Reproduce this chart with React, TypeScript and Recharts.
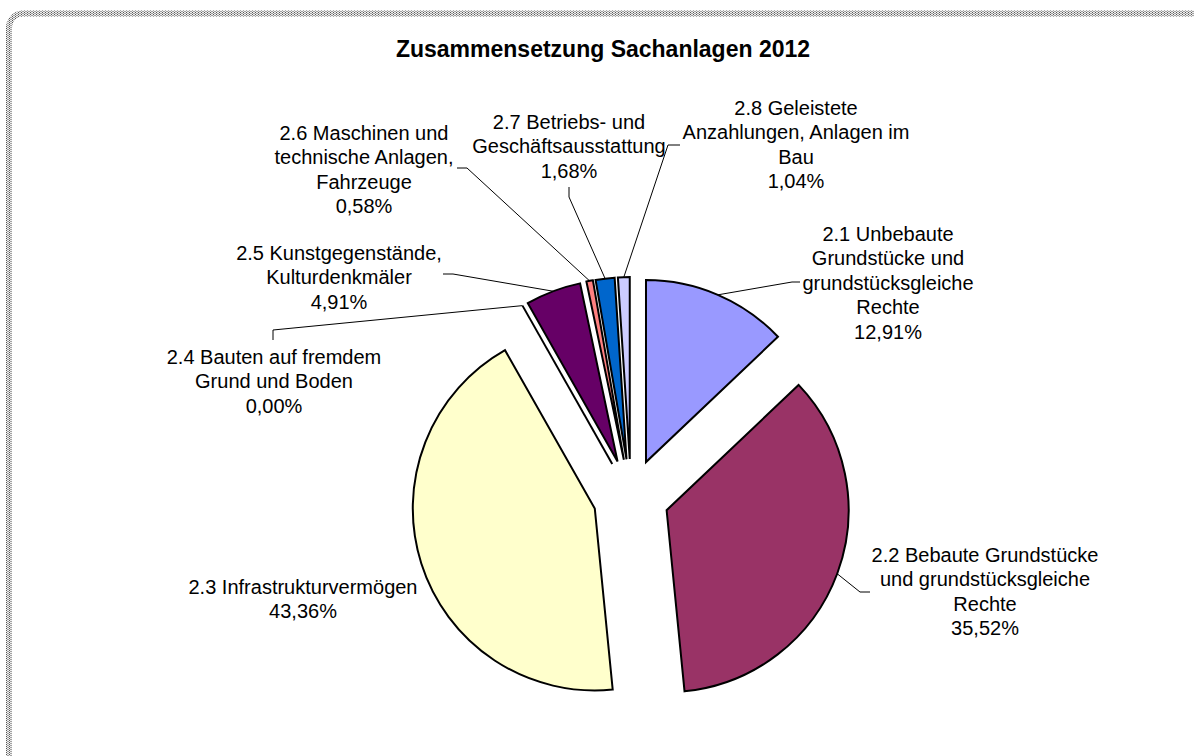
import { PieChart, Pie, Sector } from "recharts";

const categories = [
  "2.1 Unbebaute Grundstücke und grundstücksgleiche Rechte",
  "2.2 Bebaute Grundstücke und grundstücksgleiche Rechte",
  "2.3 Infrastrukturvermögen",
  "2.4 Bauten auf fremdem Grund und Boden",
  "2.5 Kunstgegenstände, Kulturdenkmäler",
  "2.6 Maschinen und technische Anlagen, Fahrzeuge",
  "2.7 Betriebs- und Geschäftsausstattung",
  "2.8 Geleistete Anzahlungen, Anlagen im Bau",
];

// share of total, in percent
const shares = [12.91, 35.52, 43.36, 0, 4.91, 0.58, 1.68, 1.04];

// label text as it wraps in the chart
const labelLines = [
  ["2.1 Unbebaute", "Grundstücke und", "grundstücksgleiche", "Rechte"],
  ["2.2 Bebaute Grundstücke", "und grundstücksgleiche", "Rechte"],
  ["2.3 Infrastrukturvermögen"],
  ["2.4 Bauten auf fremdem", "Grund und Boden"],
  ["2.5 Kunstgegenstände,", "Kulturdenkmäler"],
  ["2.6 Maschinen und", "technische Anlagen,", "Fahrzeuge"],
  ["2.7 Betriebs- und", "Geschäftsausstattung"],
  ["2.8 Geleistete", "Anzahlungen, Anlagen im", "Bau"],
];

const colors = ["#9999FF", "#993366", "#FFFFCC", "#CCFFFF", "#660066", "#FF8080", "#0066CC", "#CCCCFF"];

const data = categories.map((name, i) => ({ name, value: shares[i] }));

// where the (hand placed) labels sit, and the leader line bend/end near them
const labelLayout = [
  { x: 888, y: 234, bend: [792, 282], end: [800, 282] },
  { x: 985, y: 555, bend: [860, 592], end: [870, 592] },
  { x: 303, y: 587, bend: null, end: null },
  { x: 274, y: 357, bend: [273, 330], end: [273, 340] },
  { x: 339, y: 253, bend: [453, 274], end: [443, 274] },
  { x: 364, y: 133, bend: [467, 168], end: [457, 168] },
  { x: 569, y: 122, bend: [569, 197], end: [569, 187] },
  { x: 796, y: 108, bend: [668, 145], end: [680, 145] },
];

const FONT = "'Liberation Sans', Arial, sans-serif";
const LINE_H = 24.4;
const EXPLODE = 38;
const RAD = Math.PI / 180;

function polar(cx: number, cy: number, r: number, angle: number) {
  return { x: cx + r * Math.cos(-angle * RAD), y: cy + r * Math.sin(-angle * RAD) };
}

function ExplodedSlice(props: any) {
  const { cx, cy, outerRadius, startAngle, endAngle, percent, index } = props;
  const mid = (startAngle + endAngle) / 2;
  const c = polar(cx, cy, EXPLODE, mid);
  const edge = polar(c.x, c.y, outerRadius, mid);
  const pos = labelLayout[index];
  const lines = [...labelLines[index], `${(percent * 100).toFixed(2).replace(".", ",")}%`];

  return (
    <g>
      {startAngle === endAngle ? (
        <line x1={c.x} y1={c.y} x2={edge.x} y2={edge.y} stroke="#000" strokeWidth={2} />
      ) : (
        <Sector
          cx={c.x}
          cy={c.y}
          innerRadius={0}
          outerRadius={outerRadius}
          startAngle={startAngle}
          endAngle={endAngle}
          fill={colors[index]}
          stroke="#000"
          strokeWidth={2}
        />
      )}
      {pos.bend && (
        <polyline
          points={`${edge.x},${edge.y} ${pos.bend[0]},${pos.bend[1]} ${pos.end![0]},${pos.end![1]}`}
          fill="none"
          stroke="#000"
          strokeWidth={1}
        />
      )}
      <text textAnchor="middle" fontSize={20} fontFamily={FONT} fill="#000">
        {lines.map((t, i) => (
          <tspan key={i} x={pos.x} y={pos.y + 7 + i * LINE_H}>
            {t}
          </tspan>
        ))}
      </text>
    </g>
  );
}

export default function App() {
  return (
    <div style={{ position: "absolute", left: 0, top: 0, width: 1194, height: 756, background: "#fff" }}>
      <svg width={1194} height={756} style={{ position: "absolute", left: 0, top: 0 }}>
        <defs>
          <pattern id="halftone" width="3" height="2" patternUnits="userSpaceOnUse">
            <rect width="3" height="2" fill="#eeeeee" />
            <rect width="1" height="1" fill="#555" />
            <rect x="1.5" y="1" width="1" height="1" fill="#555" />
          </pattern>
        </defs>
        <rect x={9} y={13.5} width={1400} height={1000} rx={14} fill="none" stroke="url(#halftone)" strokeWidth={6} />
        <text x={603} y={57} textAnchor="middle" fontSize={23} fontWeight="bold" fontFamily={FONT} fill="#000">
          Zusammensetzung Sachanlagen 2012
        </text>
      </svg>
      <div style={{ position: "absolute", left: 0, top: 0 }}>
        <PieChart width={1194} height={756} margin={{ top: 0, right: 0, bottom: 0, left: 0 }}>
          <Pie
            data={data}
            dataKey="value"
            nameKey="name"
            cx={631}
            cy={497}
            innerRadius={0}
            outerRadius={182}
            startAngle={90}
            endAngle={-270}
            fill="none"
            stroke="none"
            labelLine={false}
            label={ExplodedSlice}
            isAnimationActive={false}
          />
        </PieChart>
      </div>
    </div>
  );
}
